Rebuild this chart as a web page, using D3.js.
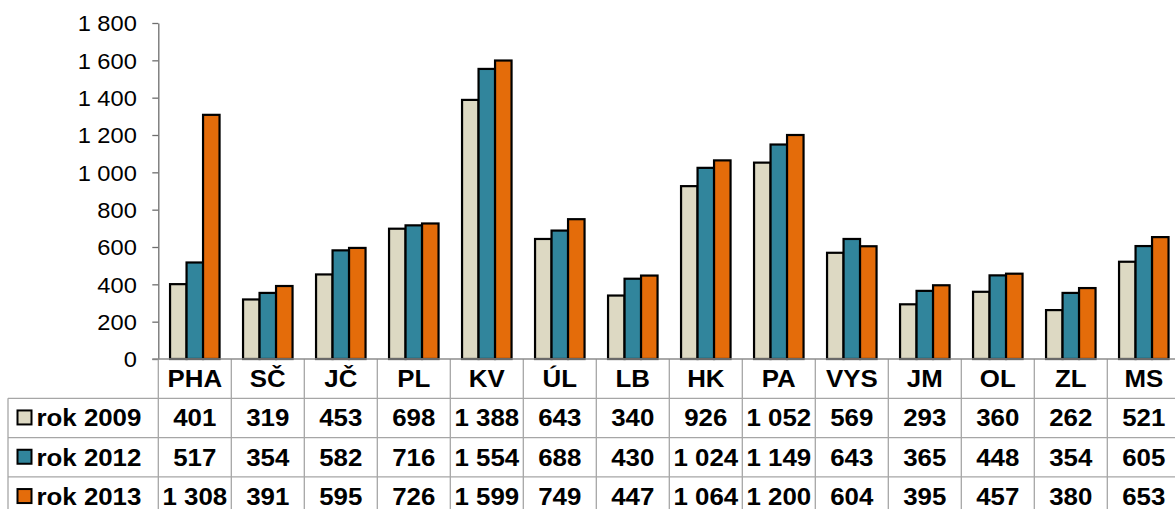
<!DOCTYPE html>
<html>
<head>
<meta charset="utf-8">
<script src="https://cdn.jsdelivr.net/npm/d3@7/dist/d3.min.js"></script>
<style>
  html, body { margin: 0; padding: 0; background: #fff; }
  svg { display: block; font-family: "Liberation Sans", Arial, sans-serif; }
</style>
</head>
<body>
<svg id="chart" width="1175" height="509"></svg>
<script>
// ---- data ----
const categories = ["PHA", "SČ", "JČ", "PL", "KV", "ÚL", "LB", "HK", "PA", "VYS", "JM", "OL", "ZL", "MS"];
const seriesNames = ["rok 2009", "rok 2012", "rok 2013"];
const values2009 = [401, 319, 453, 698, 1388, 643, 340, 926, 1052, 569, 293, 360, 262, 521];
const values2012 = [517, 354, 582, 716, 1554, 688, 430, 1024, 1149, 643, 365, 448, 354, 605];
const values2013 = [1308, 391, 595, 726, 1599, 749, 447, 1064, 1200, 604, 395, 457, 380, 653];
const yTicks = [0, 200, 400, 600, 800, 1000, 1200, 1400, 1600, 1800];
const seriesColors = ["#DDD9C3", "#31859C", "#E46C0A"];

const seriesValues = [values2009, values2012, values2013];

// ---- layout ----
const svg = d3.select("#chart");
const plotLeft = 158.3, plotRight = 1180.3, plotTop = 23, plotBottom = 359;
const tableLeft = 8;
const rowH = 39.3;
const sx = 1.1; // horizontal stretch of text seen in the reference

const locale = d3.formatLocale({ decimal: ",", thousands: "\u00a0", grouping: [3], currency: ["", " Kč"] });
const fmt = locale.format(",d");

const x = d3.scaleBand().domain(categories).range([plotLeft, plotRight]).paddingInner(0).paddingOuter(0);
const x1 = d3.scaleBand().domain(seriesNames).range([0, x.bandwidth()]).paddingInner(0).paddingOuter(0.712);
const y = d3.scaleLinear().domain([0, 1800]).range([plotBottom, plotTop]);

// rows of the data table (header + one per series)
const rowKeys = ["header"].concat(seriesNames);
const rowScale = d3.scaleBand().domain(rowKeys).range([plotBottom, plotBottom + rowKeys.length * rowH]);

// ---- bars ----
const groups = svg.append("g").selectAll("g")
  .data(categories)
  .join("g")
  .attr("transform", d => `translate(${x(d)},0)`);

groups.selectAll("rect")
  .data((c, ci) => seriesNames.map((s, si) => ({ s, si, v: seriesValues[si][ci] })))
  .join("rect")
  .attr("x", d => x1(d.s))
  .attr("y", d => y(d.v))
  .attr("width", x1.bandwidth())
  .attr("height", d => y(0) - y(d.v))
  .attr("fill", d => seriesColors[d.si])
  .attr("stroke", "#000")
  .attr("stroke-width", 2.2);

// ---- y axis ----
const yAxis = svg.append("g")
  .attr("transform", `translate(${plotLeft},0)`)
  .call(d3.axisLeft(y).tickValues(yTicks).tickSizeInner(6).tickSizeOuter(0).tickPadding(0).tickFormat(fmt));
yAxis.select(".domain").attr("stroke", "#6e6e6e").attr("stroke-width", 1.3);
yAxis.selectAll(".tick line").attr("stroke", "#6e6e6e").attr("stroke-width", 1.3);
yAxis.selectAll(".tick text")
  .attr("x", null)
  .attr("dy", "0.36em")
  .attr("transform", `translate(-21.5,0) scale(${sx},1)`)
  .attr("font-size", 21.5)
  .attr("font-family", "Liberation Sans, Arial, sans-serif")
  .attr("fill", "#000");

// ---- table grid ----
const grid = svg.append("g").attr("stroke", "#a6a6a6").attr("stroke-width", 1.3);
const tableBottom = rowScale.range()[1];
// vertical lines at each category boundary
const bounds = categories.map(c => x(c)).concat([x(categories[categories.length - 1]) + x.bandwidth()]);
grid.selectAll("line.v")
  .data(bounds)
  .join("line")
  .attr("x1", d => d).attr("x2", d => d)
  .attr("y1", (d, i) => i === 0 ? plotBottom : plotBottom)
  .attr("y2", tableBottom);
// left border of the legend column
grid.append("line")
  .attr("x1", tableLeft).attr("x2", tableLeft)
  .attr("y1", rowScale(seriesNames[0])).attr("y2", tableBottom);
// horizontal lines
grid.selectAll("line.h")
  .data(seriesNames)
  .join("line")
  .attr("x1", tableLeft).attr("x2", plotRight)
  .attr("y1", d => rowScale(d)).attr("y2", d => rowScale(d));
// x baseline
svg.append("line")
  .attr("x1", plotLeft - 6).attr("x2", plotRight)
  .attr("y1", plotBottom).attr("y2", plotBottom)
  .attr("stroke", "#8c8c8c").attr("stroke-width", 1.3);

// ---- table text ----
const tFont = 23.5;
const textG = svg.append("g")
  .attr("font-size", tFont)
  .attr("font-weight", "bold")
  .attr("fill", "#000")
  .attr("text-anchor", "middle");

const rowBase = k => rowScale(k) + rowScale.bandwidth() / 2 + 8.4;

textG.selectAll("text.hdr")
  .data(categories)
  .join("text")
  .attr("transform", d => `translate(${x(d) + x.bandwidth() / 2},${rowBase("header")}) scale(${sx},1)`)
  .text(d => d);

seriesNames.forEach((s, si) => {
  textG.append("g").selectAll("text")
    .data(seriesValues[si])
    .join("text")
    .attr("transform", (d, ci) => `translate(${x(categories[ci]) + x.bandwidth() / 2},${rowBase(s)}) scale(${sx},1)`)
    .text(d => fmt(d));
});

// legend column
const legend = svg.append("g").selectAll("g")
  .data(seriesNames)
  .join("g");
legend.append("rect")
  .attr("x", 17.5)
  .attr("y", d => rowScale(d) + rowScale.bandwidth() / 2 - 7.5)
  .attr("width", 14)
  .attr("height", 14)
  .attr("fill", (d, i) => seriesColors[i])
  .attr("stroke", "#000")
  .attr("stroke-width", 2);
legend.append("text")
  .attr("transform", d => `translate(36.5,${rowBase(d)}) scale(${sx},1)`)
  .attr("font-size", tFont)
  .attr("font-weight", "bold")
  .attr("fill", "#000")
  .text(d => d);
</script>
</body>
</html>
